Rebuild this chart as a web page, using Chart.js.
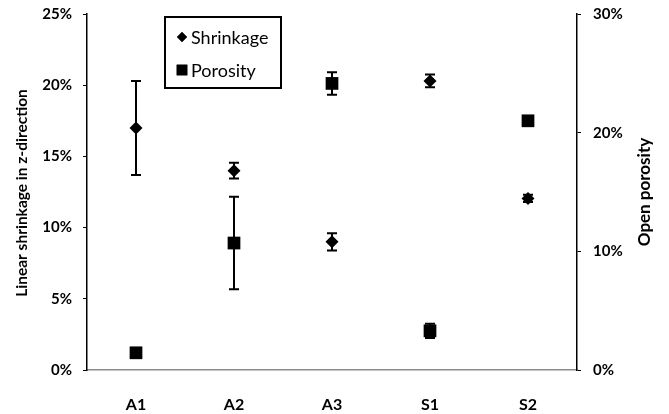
<!DOCTYPE html>
<html>
<head>
<meta charset="utf-8">
<script src="https://cdn.jsdelivr.net/npm/chart.js@4"></script>
<style>
  html, body { margin: 0; padding: 0; background: #fff; }
  #wrap { width: 669px; height: 414px; }
</style>
</head>
<body>
<div id="wrap"><canvas id="chart" width="669" height="414"></canvas></div>
<script>
// данные (в процентах)
const categories = ['A1', 'A2', 'A3', 'S1', 'S2'];
const shrinkage = [17.0, 14.0, 9.0, 20.3, 12.05];
const shrinkageErr = [3.3, 0.55, 0.6, 0.45, 0.25];
const porosity = [1.45, 10.7, 24.15, 3.3, 21.0];
const porosityErr = [0.2, 3.9, 0.95, 0.6, 0.3];
const leftTicks = [0, 5, 10, 15, 20, 25];
const rightTicks = [0, 10, 20, 30];

const FONT = 'Lato, "Open Sans", sans-serif';

// усы погрешностей
const errorBars = {
    id: 'errorBars',
    afterDatasetsDraw(chart) {
        const ctx = chart.ctx;
        const x = chart.scales.x;
        const sets = [
            { vals: shrinkage, err: shrinkageErr, scale: chart.scales.y },
            { vals: porosity, err: porosityErr, scale: chart.scales.y2 }
        ];
        ctx.save();
        ctx.strokeStyle = '#000';
        ctx.lineWidth = 2;
        sets.forEach(s => {
            s.vals.forEach((v, i) => {
                const px = x.getPixelForValue(i);
                const top = s.scale.getPixelForValue(v + s.err[i]);
                const bot = s.scale.getPixelForValue(v - s.err[i]);
                ctx.beginPath();
                ctx.moveTo(px, top); ctx.lineTo(px, bot);
                ctx.moveTo(px - 5, top); ctx.lineTo(px + 5, top);
                ctx.moveTo(px - 5, bot); ctx.lineTo(px + 5, bot);
                ctx.stroke();
            });
        });
        ctx.restore();
    }
};

// подписи осей и легенда
const extras = {
    id: 'extras',
    afterDraw(chart) {
        const ctx = chart.ctx;
        ctx.save();
        ctx.fillStyle = '#000';
        ctx.textAlign = 'center';
        ctx.textBaseline = 'middle';

        ctx.save();
        ctx.font = 'bold 15.5px ' + FONT;
        ctx.translate(22, 193);
        ctx.rotate(-Math.PI / 2);
        ctx.fillText('Linear shrinkage in z-direction', 0, 0);
        ctx.restore();

        ctx.save();
        ctx.font = 'bold 17px ' + FONT;
        ctx.translate(645, 192);
        ctx.rotate(-Math.PI / 2);
        ctx.fillText('Open porosity', 0, 0);
        ctx.restore();

        // легенда
        ctx.lineWidth = 2;
        ctx.strokeStyle = '#000';
        ctx.strokeRect(165, 17, 116, 71);
        ctx.textAlign = 'left';
        ctx.font = '18px ' + FONT;
        chart.data.datasets.forEach((ds, i) => {
            const cy = 37 + i * 33;
            Chart.helpers.drawPoint(ctx, {
                pointStyle: ds.pointStyle, radius: i === 0 ? 5 : 7.5, borderWidth: 0
            }, 182, cy);
            ctx.fill();
            ctx.fillText(ds.label, 191, cy + 1);
        });
        ctx.restore();
    }
};

const tickFont = { family: FONT, size: 15, weight: 'bold' };

new Chart(document.getElementById('chart'), {
    type: 'scatter',
    data: {
        labels: categories,
        datasets: [
            {
                label: 'Shrinkage',
                data: shrinkage,
                yAxisID: 'y',
                pointStyle: 'rectRot',
                pointRadius: 6.5,
                backgroundColor: '#000',
                borderColor: '#000',
                borderWidth: 0,
                showLine: false
            },
            {
                label: 'Porosity',
                data: porosity,
                yAxisID: 'y2',
                pointStyle: 'rect',
                pointRadius: 9,
                backgroundColor: '#000',
                borderColor: '#000',
                borderWidth: 0,
                showLine: false
            }
        ]
    },
    options: {
        responsive: false,
        animation: false,
        layout: { padding: { top: 14, left: 0, right: 0, bottom: 0 } },
        plugins: { legend: { display: false }, tooltip: { enabled: false } },
        scales: {
            x: {
                type: 'category',
                labels: categories,
                offset: true,
                grid: { display: false, drawTicks: false },
                border: { display: true, color: '#8c8c8c', width: 1.5 },
                ticks: { color: '#000', font: { family: FONT, size: 16, weight: 'bold' }, padding: 25 },
                afterFit: s => { s.height = 44; }
            },
            y: {
                position: 'left',
                min: 0, max: 25,
                afterBuildTicks: s => { s.ticks = leftTicks.map(v => ({ value: v })); },
                grid: { drawOnChartArea: false, drawTicks: true, tickLength: 4, color: '#000' },
                border: { color: '#000', width: 1.5 },
                ticks: { color: '#000', font: tickFont, padding: 11, callback: v => v + '%' },
                afterFit: s => { s.width = 87; s.paddingTop = 0; s.paddingBottom = 0; }
            },
            y2: {
                position: 'right',
                min: 0, max: 30,
                afterBuildTicks: s => { s.ticks = rightTicks.map(v => ({ value: v })); },
                grid: { drawOnChartArea: false, drawTicks: true, tickLength: 4, color: '#000' },
                border: { color: '#000', width: 1.5 },
                ticks: { color: '#000', font: tickFont, padding: 12, callback: v => v + '%' },
                afterFit: s => { s.width = 92; s.paddingTop = 0; s.paddingBottom = 0; }
            }
        }
    },
    plugins: [errorBars, extras]
});
</script>
</body>
</html>
